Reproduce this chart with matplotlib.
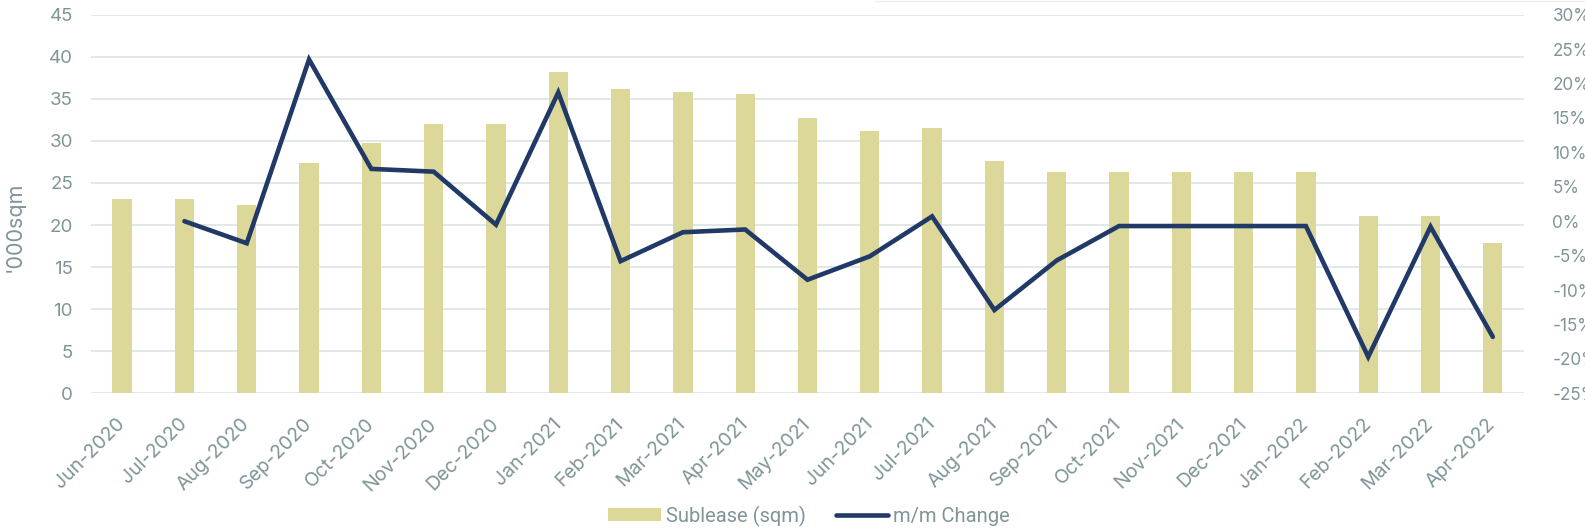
import matplotlib
matplotlib.use("Agg")
import matplotlib.pyplot as plt
from matplotlib.lines import Line2D

# Veriler
aylar = ["Jun-2020", "Jul-2020", "Aug-2020", "Sep-2020", "Oct-2020", "Nov-2020",
         "Dec-2020", "Jan-2021", "Feb-2021", "Mar-2021", "Apr-2021", "May-2021",
         "Jun-2021", "Jul-2021", "Aug-2021", "Sep-2021", "Oct-2021", "Nov-2021",
         "Dec-2021", "Jan-2022", "Feb-2022", "Mar-2022", "Apr-2022"]
sublease = [23.1, 23.1, 22.4, 27.4, 29.7, 32.0, 32.0, 38.2, 36.2, 35.8, 35.6, 32.7,
            31.2, 31.5, 27.6, 26.3, 26.3, 26.3, 26.3, 26.3, 21.1, 21.1, 17.9]
# m/m degisim (%), Jun-2020 icin deger yok
degisim = [None, 0.0, -3.2, 23.5, 7.6, 7.2, -0.5, 18.7, -5.8, -1.6, -1.2, -8.5,
           -5.1, 0.7, -12.9, -5.7, -0.7, -0.7, -0.7, -0.7, -19.7, -0.8, -16.8]

sol_tikler = list(range(0, 50, 5))
sag_tikler = list(range(-25, 35, 5))

yazi_renk = "#7f9598"
bar_renk = "#dbd89a"
cizgi_renk = "#213966"
grid_renk = "#e2e7e7"

plt.rcParams["font.family"] = ["Inter", "DejaVu Sans"]

fig = plt.figure(figsize=(15.85, 5.31), dpi=100)
ax = fig.add_axes([0.0574, 0.2593, 0.9041, 0.713])
ax2 = ax.twinx()

x = list(range(len(aylar)))
ax.bar(x, sublease, width=0.31, color=bar_renk, zorder=2, label="Sublease (sqm)")

xs = [i for i, d in zip(x, degisim) if d is not None]
ys = [d for d in degisim if d is not None]
ax2.plot(xs, ys, color=cizgi_renk, linewidth=3.3, solid_joinstyle="miter",
         solid_capstyle="round", zorder=3, label="m/m Change")

ax.set_xlim(-0.5, len(aylar) - 0.5)
ax.set_ylim(0, 45)
ax.set_yticks(sol_tikler)
ax.set_yticklabels([str(t) for t in sol_tikler])
ax2.set_ylim(-25, 30)
ax2.set_yticks(sag_tikler)
ax2.set_yticklabels([f"{t}%" for t in sag_tikler])

ax.grid(axis="y", color=grid_renk, linewidth=1.4, zorder=0)
ax.set_axisbelow(True)
ax.set_zorder(ax2.get_zorder() - 1)
ax2.patch.set_visible(False)

for a in (ax, ax2):
    for s in a.spines.values():
        s.set_visible(False)
    a.tick_params(length=0, colors=yazi_renk, labelsize=13.5)

ax.tick_params(axis="y", pad=13)
ax2.tick_params(axis="y", pad=20.5, labelsize=12.3)

ax.set_xticks(x)
ax.set_xticklabels(aylar, rotation=45, ha="right", va="center",
                   rotation_mode="anchor", fontsize=14, color=yazi_renk)
ax.tick_params(axis="x", pad=20)

ax.set_ylabel("'000sqm", fontsize=15.5, color=yazi_renk)
ax.yaxis.set_label_coords(-0.046, 0.44)

# Legend
h1, l1 = ax.get_legend_handles_labels()
h2, l2 = ax2.get_legend_handles_labels()
fig.legend(h1 + h2, l1 + l2, loc="center", bbox_to_anchor=(809 / 1585, 1 - 516 / 531),
           ncol=2, frameon=False, handlelength=2.6, handleheight=0.65,
           handletextpad=0.25, columnspacing=1.5,
           prop={"family": "Roboto", "size": 14.5}, labelcolor=yazi_renk)

# ust kenardaki ince cizgi
fig.add_artist(Line2D([875 / 1585, 1.0], [0.999, 0.999], color="#eeeeee",
                      linewidth=1, transform=fig.transFigure))

fig.savefig("out.png", dpi=100)
plt.close()
